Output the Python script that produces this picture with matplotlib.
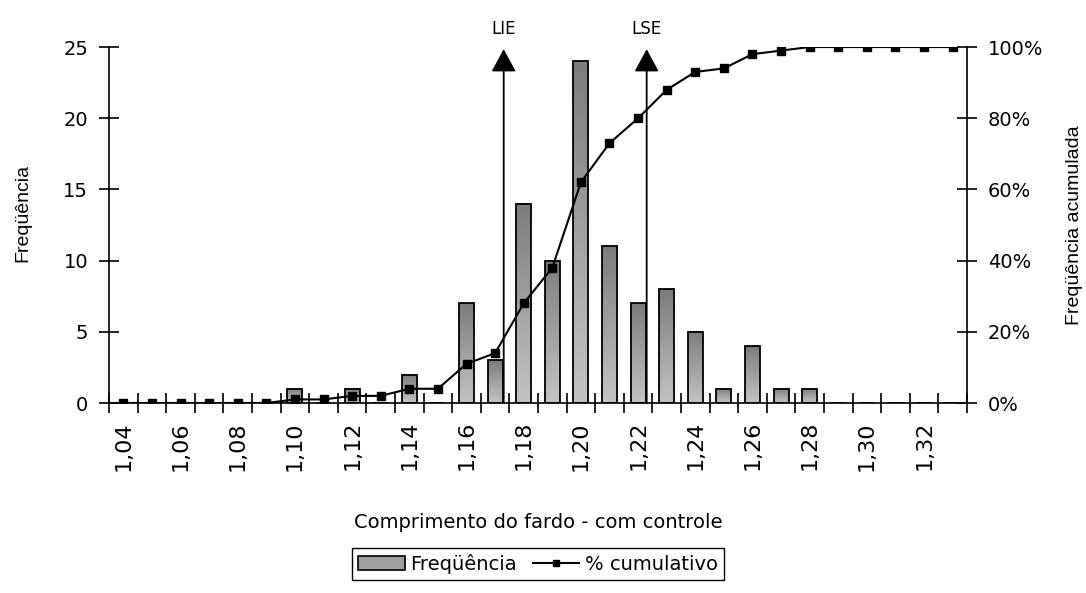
import numpy as np
import matplotlib
matplotlib.use('Agg')
import matplotlib.pyplot as plt
from matplotlib.colors import LinearSegmentedColormap
from matplotlib.ticker import FixedLocator, PercentFormatter
from matplotlib.patches import Patch
from matplotlib.lines import Line2D

# comprimento do fardo [m]
categorias = ['1,04', '1,05', '1,06', '1,07', '1,08', '1,09', '1,10', '1,11', '1,12', '1,13',
              '1,14', '1,15', '1,16', '1,17', '1,18', '1,19', '1,20', '1,21', '1,22', '1,23',
              '1,24', '1,25', '1,26', '1,27', '1,28', '1,29', '1,30', '1,31', '1,32', '1,33']
frequencia = [0, 0, 0, 0, 0, 0, 1, 0, 1, 0,
              2, 0, 7, 3, 14, 10, 24, 11, 7, 8,
              5, 1, 4, 1, 1, 0, 0, 0, 0, 0]
acumulado = [0, 0, 0, 0, 0, 0, 1, 1, 2, 2,
             4, 4, 11, 14, 28, 38, 62, 73, 80, 88,
             93, 94, 98, 99, 100, 100, 100, 100, 100, 100]
limites_nome = ['LIE', 'LSE']
limites_valor = [1.173, 1.223]

FONTE_H = 'DejaVu Sans'
FONTE_V = 'Liberation Sans'

fig = plt.figure(figsize=(10.86, 5.93), dpi=100)
fig.subplots_adjust(left=0.1004, right=0.8904, top=0.9207, bottom=0.3204)
ax1 = fig.add_subplot(111)
ax2 = ax1.twinx()

x = np.arange(len(categorias))
valores_cat = np.array([float(c.replace(',', '.')) for c in categorias])
largura = 0.52

# barras com gradiente (escuro em cima, claro embaixo)
cmap = LinearSegmentedColormap.from_list('cinza', ['#c4c4c4', '#7c7c7c'])
grad = np.linspace(0, 1, 128).reshape(-1, 1)
for xi, h in zip(x, frequencia):
    if h == 0:
        continue
    ax1.imshow(grad, extent=[xi - largura / 2, xi + largura / 2, 0, h], origin='lower',
               cmap=cmap, aspect='auto', zorder=2, interpolation='bilinear')
ax1.bar(x, frequencia, width=largura, facecolor='none', edgecolor='black', linewidth=1.3, zorder=3)

ax1.set_xlim(-0.5, len(categorias) - 0.5)
ax1.set_ylim(0, 25)
ax1.set_yticks([0, 5, 10, 15, 20, 25])

# setas LIE / LSE
for nome, val in zip(limites_nome, limites_valor):
    xp = np.interp(val, valores_cat, x)
    ax1.annotate('', xy=(xp, 24.85), xytext=(xp, 0),
                 arrowprops=dict(arrowstyle='-|>,head_length=0.7,head_width=0.38', mutation_scale=20,
                                 color='black', lw=1.3, shrinkA=0, shrinkB=0), zorder=4,
                 annotation_clip=False)
    ax1.text(xp, 26.3, nome, ha='center', va='center', fontsize=12, family=FONTE_H, clip_on=False)

# % cumulativo
ax2.plot(x, acumulado, color='black', lw=1.5, marker='s', markersize=6, zorder=5)
ax2.set_ylim(0, 100)
ax2.set_yticks([0, 20, 40, 60, 80, 100])
ax2.yaxis.set_major_formatter(PercentFormatter(100, decimals=0))

# eixos
for a in (ax1, ax2):
    a.spines['top'].set_visible(False)
    for s in ('left', 'right', 'bottom'):
        a.spines[s].set_linewidth(1.2)
ax2.spines['left'].set_visible(False)
ax2.spines['bottom'].set_visible(False)
ax1.spines['right'].set_visible(False)

ax1.xaxis.set_major_locator(FixedLocator(x[::2]))
ax1.set_xticklabels(categorias[::2], rotation=90, fontsize=16, family=FONTE_H)
ax1.xaxis.set_minor_locator(FixedLocator(np.arange(-0.5, len(categorias), 1.0)))
ax1.tick_params(axis='x', which='major', length=0, pad=13)
ax1.tick_params(axis='x', which='minor', direction='inout', length=14, width=1.2)
ax1.tick_params(axis='y', direction='inout', length=14, width=1.2, labelsize=14, pad=8)
ax2.tick_params(axis='y', direction='inout', length=14, width=1.2, labelsize=14, pad=8)
for lab in ax1.get_yticklabels() + ax2.get_yticklabels():
    lab.set_family(FONTE_H)

ax1.set_xlabel('Comprimento do fardo - com controle', fontsize=14, family=FONTE_H)
ax1.xaxis.set_label_coords(0.5, -0.309)
ax1.set_ylabel('Freqüência', fontsize=14, family=FONTE_V)
ax1.yaxis.set_label_coords(-0.091, 0.535)
ax2.set_ylabel('Freqüência acumulada', fontsize=14, family=FONTE_V, rotation=90)
ax2.yaxis.set_label_coords(1.116, 0.5)

handles = [Patch(facecolor='#a0a0a0', edgecolor='black', linewidth=1.2),
           Line2D([], [], color='black', lw=1.5, marker='s', markersize=5)]
leg = fig.legend(handles, ['Freqüência', '% cumulativo'], loc='center', ncol=2,
                 bbox_to_anchor=(538 / 1086, 1 - 564 / 593), frameon=True, fancybox=False,
                 edgecolor='black', framealpha=1, prop={'family': FONTE_H, 'size': 14},
                 handlelength=2.4, handletextpad=0.3, columnspacing=0.8, borderpad=0.3)
leg.get_frame().set_linewidth(1.0)

fig.savefig('out.png', dpi=100)
